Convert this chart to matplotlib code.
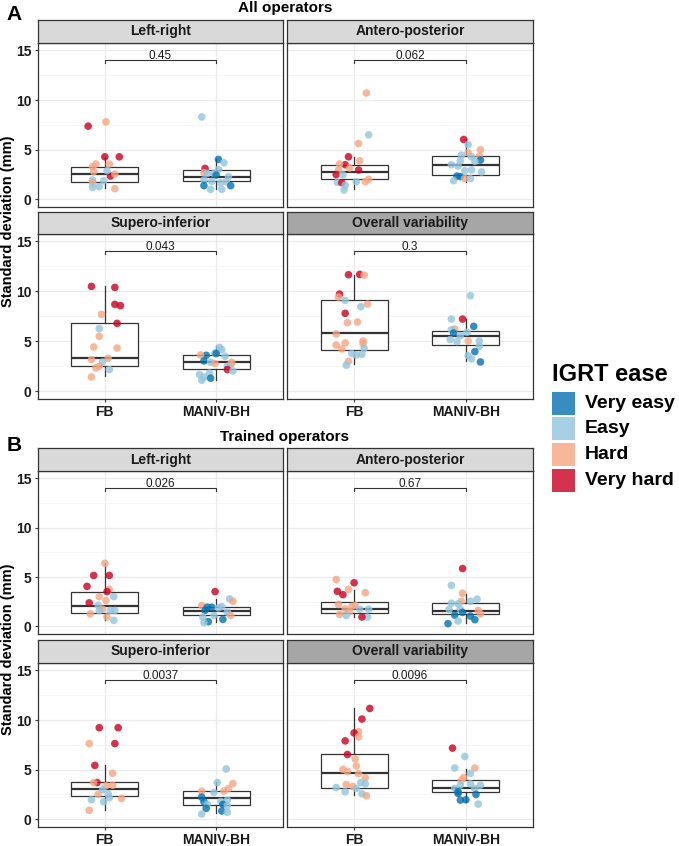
import matplotlib
matplotlib.use('Agg')
import matplotlib.pyplot as plt
from matplotlib.patches import Rectangle

plt.rcParams['font.family'] = ['Liberation Sans', 'DejaVu Sans']

# ---- data -------------------------------------------------------------
groups = ['FB', 'MANIV-BH']
ease_levels = ['Very easy', 'Easy', 'Hard', 'Very hard']
ease_codes = ['VE', 'E', 'H', 'VH']
ease_colors = ['#0571b0', '#92c5de', '#f4a582', '#ca0020']
facet_labels = ['Left-right', 'Antero-posterior', 'Supero-inferior', 'Overall variability']
panel_titles = ['All operators', 'Trained operators']
pvals_all = ['0.45', '0.062', '0.043', '0.3']
pvals_trained = ['0.026', '0.67', '0.0037', '0.0096']

# each point: (standard deviation in mm, IGRT ease); jitter
# box stats: [whisker low, q1, median, q3, whisker high]

# ---- A: all operators
a_lr_fb = [(7.37, 'VH'), (7.8, 'H'), (4.28, 'VH'), (4.28, 'VH'), (3.55, 'H'), (3.28, 'H'),
           (3.55, 'H'), (2.78, 'H'), (2.34, 'VH'), (2.54, 'H'), (2.88, 'E'), (1.94, 'E'),
           (1.67, 'H'), (1.2, 'E'), (1.27, 'E'), (1.87, 'E'), (1.07, 'H')]
a_lr_fb_jit = [-0.15, 0.01, 0.0, 0.13, -0.08, -0.11, 0.04, -0.10, 0.05, 0.09, 0.02, -0.11,
               -0.11, -0.11, -0.05, -0.01, 0.09]
a_lr_fb_box = [1.1, 1.71, 2.51, 3.21, 4.28]
a_lr_mv = [(8.3, 'E'), (4.02, 'VE'), (3.68, 'E'), (3.11, 'VH'), (2.68, 'H'), (2.6, 'E'),
           (2.6, 'E'), (3.0, 'E'), (2.44, 'VE'), (2.28, 'E'), (1.94, 'E'), (1.8, 'E'),
           (1.67, 'E'), (1.77, 'E'), (1.37, 'VE'), (1.37, 'VE'), (1.0, 'E'), (1.0, 'E')]
a_lr_mv_jit = [-0.13, 0.02, 0.07, -0.10, -0.11, -0.02, -0.08, 0.02, 0.0, 0.11, -0.11, -0.04,
               0.04, 0.09, -0.11, 0.13, -0.05, 0.05]
a_lr_mv_box = [1.0, 1.84, 2.28, 2.91, 4.02]

a_ap_fb = [(10.71, 'H'), (6.5, 'E'), (5.62, 'H'), (4.28, 'VH'), (3.88, 'H'), (3.48, 'VH'),
           (3.55, 'H'), (3.15, 'H'), (2.95, 'VH'), (2.95, 'H'), (2.48, 'VH'), (2.48, 'E'),
           (1.71, 'E'), (1.67, 'VH'), (1.41, 'E'), (0.94, 'E'), (1.77, 'E'), (1.77, 'H'), (2.01, 'H')]
a_ap_fb_jit = [0.11, 0.13, 0.04, -0.05, 0.05, -0.08, -0.13, -0.04, 0.04, -0.14, -0.16, -0.10,
               -0.15, -0.11, -0.08, -0.09, 0.02, 0.10, 0.13]
a_ap_fb_box = [1.07, 2.01, 2.71, 3.48, 4.22]
a_ap_mv = [(6.03, 'VH'), (5.52, 'E'), (4.99, 'H'), (4.45, 'E'), (4.69, 'H'), (4.29, 'E'),
           (4.35, 'H'), (3.95, 'VE'), (3.82, 'E'), (3.48, 'E'), (3.88, 'E'), (3.35, 'E'),
           (2.75, 'E'), (2.88, 'E'), (2.95, 'E'), (2.34, 'VE'), (2.28, 'VE'), (1.87, 'E'),
           (2.08, 'E'), (2.1, 'H')]
a_ap_mv_jit = [-0.02, 0.02, 0.13, -0.04, 0.02, 0.05, 0.12, 0.13, 0.08, -0.13, -0.05, -0.07,
               0.14, -0.01, 0.05, -0.08, -0.05, -0.11, 0.04, -0.01]
a_ap_mv_box = [1.77, 2.44, 3.48, 4.32, 6.03]

a_si_fb = [(10.5, 'VH'), (10.4, 'VH'), (8.7, 'VH'), (8.57, 'VH'), (7.7, 'H'), (6.8, 'VH'),
           (6.27, 'E'), (5.5, 'H'), (4.43, 'H'), (4.33, 'H'), (3.3, 'H'), (3.17, 'H'),
           (2.93, 'E'), (2.5, 'H'), (2.33, 'H'), (2.17, 'E'), (1.43, 'H')]
a_si_fb_jit = [-0.12, 0.09, 0.09, 0.14, -0.03, 0.11, -0.05, -0.05, -0.10, 0.11, 0.03, -0.12,
               -0.02, -0.05, -0.08, 0.04, -0.12]
a_si_fb_box = [1.5, 2.57, 3.33, 6.8, 10.57]
a_si_mv = [(4.4, 'E'), (4.17, 'E'), (3.83, 'E'), (3.6, 'VE'), (3.77, 'VE'), (3.63, 'H'),
           (3.03, 'VE'), (3.5, 'E'), (2.9, 'E'), (2.77, 'H'), (2.9, 'H'), (2.67, 'H'),
           (2.5, 'E'), (2.17, 'VH'), (2.03, 'E'), (1.83, 'E'), (1.67, 'E'), (1.43, 'E'),
           (1.1, 'E'), (1.3, 'VE')]
a_si_mv_jit = [0.03, 0.05, -0.01, -0.09, 0.0, -0.14, -0.11, 0.08, -0.05, -0.01, 0.14, 0.13,
               0.10, 0.10, 0.15, -0.06, -0.15, -0.11, -0.13, -0.05]
a_si_mv_box = [1.17, 2.2, 2.97, 3.6, 4.5]

a_ov_fb = [(11.67, 'VH'), (11.7, 'VH'), (11.63, 'H'), (9.73, 'VH'), (9.43, 'H'), (9.1, 'E'),
           (8.73, 'H'), (8.47, 'E'), (7.8, 'VH'), (6.87, 'H'), (6.93, 'H'), (5.73, 'H'),
           (5.03, 'H'), (4.77, 'H'), (4.83, 'H'), (4.63, 'H'), (4.23, 'H'), (4.3, 'E'),
           (3.77, 'E'), (3.63, 'E'), (3.7, 'E'), (3.0, 'H'), (2.6, 'E')]
a_ov_fb_jit = [-0.05, 0.05, 0.09, -0.13, -0.14, -0.08, 0.12, 0.06, -0.08, -0.06, 0.03, -0.16,
               0.08, 0.08, -0.08, -0.16, -0.11, 0.09, -0.02, 0.02, 0.07, -0.05, -0.07]
a_ov_fb_box = [2.73, 4.13, 5.83, 9.1, 11.67]
a_ov_mv = [(9.57, 'E'), (7.23, 'VH'), (7.23, 'E'), (6.5, 'VE'), (6.23, 'H'), (6.17, 'E'),
           (5.83, 'VE'), (5.9, 'E'), (5.57, 'E'), (5.17, 'E'), (4.97, 'E'), (5.03, 'H'),
           (5.03, 'E'), (4.5, 'E'), (3.97, 'VE'), (3.57, 'E'), (3.23, 'E'), (2.93, 'VE')]
a_ov_mv_jit = [0.04, -0.03, -0.13, 0.07, -0.10, -0.13, -0.11, 0.01, -0.05, -0.14, -0.08, 0.02,
               0.12, 0.12, 0.08, 0.02, 0.05, 0.13]
a_ov_mv_box = [3.07, 4.6, 5.53, 6.0, 7.23]

# ---- B: trained operators
b_lr_fb = [(6.39, 'H'), (5.16, 'VH'), (5.16, 'VH'), (4.05, 'VH'), (3.75, 'H'), (3.52, 'VH'),
           (3.01, 'E'), (3.01, 'H'), (2.61, 'H'), (2.38, 'VH'), (2.14, 'E'), (1.74, 'H'),
           (1.61, 'E'), (1.61, 'E'), (1.6, 'E'), (1.27, 'H'), (0.94, 'H'), (0.6, 'E')]
b_lr_fb_jit = [0.0, -0.10, 0.04, -0.16, 0.04, 0.02, 0.08, -0.05, 0.01, -0.14, -0.06, -0.02,
               0.05, 0.09, -0.05, -0.13, 0.02, 0.08]
b_lr_fb_box = [0.67, 1.34, 2.08, 3.52, 6.39]
b_lr_mv = [(3.52, 'VH'), (2.78, 'E'), (2.54, 'H'), (2.11, 'H'), (1.94, 'VE'), (1.94, 'VE'),
           (1.61, 'VE'), (1.87, 'E'), (2.0, 'E'), (1.44, 'E'), (1.1, 'H'), (1.1, 'E'),
           (0.94, 'E'), (0.7, 'VE'), (0.47, 'VE'), (0.37, 'E')]
b_lr_mv_jit = [-0.01, 0.12, 0.15, -0.13, -0.08, -0.04, -0.10, 0.02, 0.05, 0.10, 0.13, -0.02,
               -0.12, 0.06, -0.07, -0.11]
b_lr_mv_box = [0.44, 1.17, 1.57, 1.94, 2.78]

b_ap_fb = [(4.75, 'H'), (4.42, 'VH'), (3.75, 'H'), (3.55, 'VH'), (3.21, 'VH'), (3.41, 'H'),
           (2.21, 'H'), (2.01, 'H'), (2.11, 'H'), (1.77, 'H'), (1.74, 'E'), (1.74, 'E'),
           (1.5, 'H'), (1.21, 'H'), (1.1, 'E'), (0.94, 'E'), (0.94, 'VH')]
b_ap_fb_jit = [-0.16, 0.0, -0.05, -0.15, -0.10, 0.10, -0.14, -0.02, 0.01, -0.08, 0.05, 0.13,
               -0.04, -0.13, -0.07, 0.12, 0.07]
b_ap_fb_box = [0.94, 1.37, 1.74, 2.48, 3.72]
b_ap_mv = [(5.86, 'VH'), (4.15, 'E'), (3.35, 'H'), (2.75, 'E'), (2.54, 'E'), (2.54, 'H'),
           (2.34, 'E'), (2.28, 'E'), (1.71, 'E'), (1.74, 'E'), (1.61, 'H'), (1.27, 'H'),
           (1.41, 'VE'), (1.14, 'VE'), (1.04, 'VE'), (0.67, 'VE'), (0.54, 'E'), (0.27, 'VE')]
b_ap_mv_jit = [-0.03, -0.13, -0.03, 0.10, 0.04, -0.04, -0.13, -0.07, -0.15, -0.05, 0.11, 0.13,
               -0.03, -0.10, 0.04, 0.08, -0.07, -0.16]
b_ap_mv_box = [0.33, 1.27, 1.54, 2.38, 3.28]

b_si_fb = [(9.23, 'VH'), (9.23, 'VH'), (7.63, 'H'), (7.63, 'VH'), (5.43, 'VH'), (4.63, 'H'),
           (3.7, 'VH'), (3.7, 'H'), (3.43, 'H'), (3.37, 'H'), (2.97, 'E'), (2.5, 'H'),
           (2.57, 'E'), (2.1, 'H'), (2.17, 'E'), (1.97, 'E'), (1.77, 'E'), (0.9, 'H')]
b_si_fb_jit = [-0.05, 0.12, -0.14, 0.09, -0.09, 0.07, -0.07, -0.10, 0.07, 0.01, -0.02, -0.06,
               0.03, 0.15, 0.04, -0.12, -0.01, -0.14]
b_si_fb_box = [0.93, 2.37, 3.03, 3.73, 5.43]
b_si_mv = [(5.07, 'E'), (3.6, 'H'), (3.7, 'E'), (3.1, 'H'), (2.83, 'H'), (2.7, 'E'),
           (2.83, 'H'), (2.23, 'VE'), (1.77, 'VE'), (1.93, 'E'), (1.8, 'E'), (1.5, 'VE'),
           (1.5, 'E'), (1.1, 'VE'), (0.83, 'VE'), (1.37, 'E'), (0.7, 'E'), (0.53, 'E')]
b_si_mv_jit = [0.09, 0.15, 0.01, 0.11, -0.13, -0.02, 0.07, -0.13, -0.11, 0.10, 0.04, 0.06,
               -0.08, -0.09, 0.05, 0.10, 0.10, -0.13]
b_si_mv_box = [0.6, 1.43, 2.13, 2.83, 3.77]

b_ov_fb = [(11.17, 'VH'), (10.1, 'VH'), (8.83, 'H'), (8.7, 'VH'), (8.3, 'H'), (7.9, 'VH'),
           (6.53, 'VH'), (6.07, 'H'), (5.37, 'H'), (5.03, 'H'), (4.83, 'H'), (4.6, 'H'),
           (4.17, 'H'), (3.7, 'E'), (3.57, 'E'), (3.5, 'H'), (3.3, 'H'), (3.2, 'E'),
           (3.1, 'E'), (2.77, 'E'), (2.57, 'E'), (2.37, 'H')]
b_ov_fb_jit = [0.14, 0.07, 0.04, 0.0, 0.04, -0.08, -0.06, 0.01, 0.02, -0.10, -0.06, 0.04,
               0.10, 0.06, 0.10, -0.07, -0.01, -0.16, 0.02, -0.08, 0.07, 0.11]
b_ov_fb_box = [2.43, 3.2, 4.63, 6.53, 11.2]
b_ov_mv = [(7.17, 'VH'), (6.33, 'E'), (5.17, 'H'), (5.17, 'E'), (4.63, 'E'), (4.2, 'H'),
           (3.93, 'H'), (3.57, 'E'), (3.43, 'E'), (3.43, 'E'), (3.1, 'E'), (3.1, 'E'),
           (2.77, 'VE'), (2.6, 'VE'), (2.5, 'VE'), (1.93, 'VE'), (1.97, 'VE'), (1.53, 'E')]
b_ov_mv_jit = [-0.12, -0.01, 0.08, -0.10, 0.04, -0.02, -0.04, 0.04, 0.13, -0.05, 0.08, -0.10,
               -0.07, -0.07, 0.09, -0.05, 0.0, 0.11]
b_ov_mv_box = [1.77, 2.77, 3.17, 3.93, 5.1]

# ---- layout -------------------------------------------------------------
W, H = 679, 846
fig = plt.figure(figsize=(W / 100, H / 100), dpi=100)
DARK = '#333333'


def px(x0, y0, x1, y1):
    return [x0 / W, 1 - y1 / H, (x1 - x0) / W, (y1 - y0) / H]


col_px = [(38, 283), (287, 533)]
row_px = [[(20, 43, 207), (212, 234, 399)],
          [(448, 471, 634), (640, 663, 827)]]
strip_colors = ['#d9d9d9', '#d9d9d9', '#d9d9d9', '#a6a6a6']
color_of = dict(zip(ease_codes, ease_colors))


def draw_facet(rect, strip_rect, label, scol, fb, fb_jit, fb_box, mv, mv_jit, mv_box,
               pval, show_y, show_x):
    ax = fig.add_axes(px(*rect))
    for pos, pts, jit, st in [(1, fb, fb_jit, fb_box), (2, mv, mv_jit, mv_box)]:
        stats = [dict(whislo=st[0], q1=st[1], med=st[2], q3=st[3], whishi=st[4], fliers=[])]
        ax.bxp(stats, positions=[pos], widths=0.6, showfliers=False, showcaps=False,
               patch_artist=True,
               boxprops=dict(facecolor='white', edgecolor=DARK, lw=0.9),
               whiskerprops=dict(color=DARK, lw=0.9),
               medianprops=dict(color=DARK, lw=1.6), zorder=2)
        vals = [p[0] for p in pts]
        cols = [color_of[p[1]] for p in pts]
        ax.scatter([pos + j for j in jit], vals, c=cols, s=30, alpha=0.8,
                   edgecolors='none', zorder=3)
    # significance bracket
    ax.plot([1, 1, 2, 2], [13.72, 14, 14, 13.72], color=DARK, lw=0.8, zorder=4)
    ax.text(1.5, 14.1, pval, ha='center', va='baseline', fontsize=8.5, color='#1a1a1a')

    ax.set_xlim(0.4, 2.6)
    ax.set_ylim(-0.78, 15.75)
    ax.set_xticks([1, 2])
    ax.set_xticklabels(groups)
    ax.set_yticks([0, 5, 10, 15])
    ax.set_yticks([2.5, 7.5, 12.5], minor=True)
    ax.grid(which='major', color='#ebebeb', lw=0.9)
    ax.grid(which='minor', axis='y', color='#f3f3f3', lw=0.5)
    ax.set_axisbelow(True)
    ax.tick_params(which='minor', left=False)
    ax.tick_params(axis='y', length=2.5, width=0.8, color=DARK, pad=2,
                   labelsize=10, left=show_y, labelleft=show_y)
    ax.tick_params(axis='x', length=2.5, width=0.8, color=DARK, pad=1.5,
                   labelsize=10, bottom=show_x, labelbottom=show_x)
    for t in ax.get_xticklabels() + ax.get_yticklabels():
        t.set_fontweight('bold')
        t.set_color('#1a1a1a')
    for sp in ax.spines.values():
        sp.set_color(DARK)
        sp.set_linewidth(0.9)

    sx = fig.add_axes(px(*strip_rect))
    sx.set_facecolor(scol)
    sx.set_xticks([])
    sx.set_yticks([])
    for sp in sx.spines.values():
        sp.set_color(DARK)
        sp.set_linewidth(0.9)
    sx.text(0.5, 0.5, label, ha='center', va='center', fontsize=10, fontweight='bold',
            color='#1a1a1a', transform=sx.transAxes)
    return ax


panels = [
    [(a_lr_fb, a_lr_fb_jit, a_lr_fb_box, a_lr_mv, a_lr_mv_jit, a_lr_mv_box),
     (a_ap_fb, a_ap_fb_jit, a_ap_fb_box, a_ap_mv, a_ap_mv_jit, a_ap_mv_box),
     (a_si_fb, a_si_fb_jit, a_si_fb_box, a_si_mv, a_si_mv_jit, a_si_mv_box),
     (a_ov_fb, a_ov_fb_jit, a_ov_fb_box, a_ov_mv, a_ov_mv_jit, a_ov_mv_box)],
    [(b_lr_fb, b_lr_fb_jit, b_lr_fb_box, b_lr_mv, b_lr_mv_jit, b_lr_mv_box),
     (b_ap_fb, b_ap_fb_jit, b_ap_fb_box, b_ap_mv, b_ap_mv_jit, b_ap_mv_box),
     (b_si_fb, b_si_fb_jit, b_si_fb_box, b_si_mv, b_si_mv_jit, b_si_mv_box),
     (b_ov_fb, b_ov_fb_jit, b_ov_fb_box, b_ov_mv, b_ov_mv_jit, b_ov_mv_box)],
]
pvals = [pvals_all, pvals_trained]

for p in range(2):
    for k in range(4):
        r, c = divmod(k, 2)
        s_top, p_top, p_bot = row_px[p][r]
        x0, x1 = col_px[c]
        draw_facet((x0, p_top, x1, p_bot), (x0, s_top, x1, p_top), facet_labels[k],
                   strip_colors[k], *panels[p][k], pvals[p][k],
                   show_y=(c == 0), show_x=(r == 1))

# titles, panel letters, y labels
for p, (ty, ly, yc) in enumerate([(8, 15, 221), (437, 445, 649)]):
    fig.text(285 / W, 1 - ty / H, panel_titles[p], ha='center', va='center',
             fontsize=11, fontweight='bold')
    fig.text(14 / W, 1 - ly / H, 'AB'[p], ha='center', va='center',
             fontsize=15, fontweight='bold')
    fig.text(8 / W, 1 - yc / H, 'Standard deviation (mm)', ha='center', va='center',
             rotation=90, fontsize=10.5, fontweight='bold')

# legend
fig.text(552 / W, 1 - 374 / H, 'IGRT ease', ha='left', va='center',
         fontsize=17, fontweight='bold')
key_tops = [392, 417, 443, 469]
for lab, col, kt in zip(ease_levels, ease_colors, key_tops):
    fig.add_artist(Rectangle((552 / W, 1 - (kt + 23) / H), 23 / W, 23 / H,
                             facecolor=col, alpha=0.8, edgecolor='none',
                             transform=fig.transFigure))
    fig.text(585 / W, 1 - (kt + 11.5) / H, lab, ha='left', va='center',
             fontsize=14, fontweight='bold')

fig.savefig('out.png', dpi=100)
